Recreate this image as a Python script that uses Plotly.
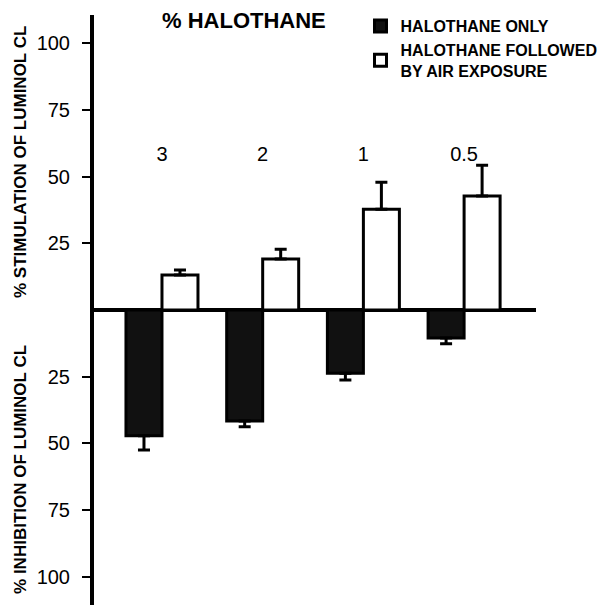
import plotly.graph_objects as go

categories = ["3", "2", "1", "0.5"]
halothane_only = [-47.1, -41.6, -23.7, -10.5]
halothane_only_err = [5.4, 2.2, 2.5, 2.2]
halothane_air = [13.1, 19.1, 37.8, 42.7]
halothane_air_err = [1.9, 3.7, 10.1, 11.6]
ytick_vals = [-100, -75, -50, -25, 25, 50, 75, 100]
ytick_text = [str(abs(v)) for v in ytick_vals]

FONT = "Liberation Sans, Arial, Helvetica, sans-serif"
xpos = list(range(len(categories)))

fig = go.Figure()
fig.add_trace(go.Bar(
    x=xpos, y=halothane_only, name="HALOTHANE ONLY",
    marker=dict(color="#111111", line=dict(color="#000000", width=3)),
    error_y=dict(type="data", symmetric=False, array=[0]*4,
                 arrayminus=halothane_only_err, color="#000000",
                 thickness=3, width=6),
))
fig.add_trace(go.Bar(
    x=xpos, y=halothane_air, name="HALOTHANE FOLLOWED<br>BY AIR EXPOSURE",
    marker=dict(color="#ffffff", line=dict(color="#000000", width=3)),
    error_y=dict(type="data", symmetric=False, array=halothane_air_err,
                 arrayminus=[0]*4, color="#000000", thickness=3, width=6),
))

fig.update_layout(
    width=609, height=605,
    margin=dict(l=86, r=81, t=7, b=8, autoexpand=False),
    paper_bgcolor="white", plot_bgcolor="white",
    barmode="group", bargap=0.285, bargroupgap=0,
    font=dict(family=FONT, color="black"),
    showlegend=True,
    legend=dict(x=0.603, y=1.010, xanchor="left", yanchor="top",
                font=dict(family=FONT, size=16, color="black", weight="bold"),
                bgcolor="rgba(0,0,0,0)", borderwidth=0, tracegroupgap=0),
    xaxis=dict(range=[-0.675, 3.714], tickvals=xpos, ticktext=categories,
               side="top", anchor="free", position=0.745,
               showline=False, ticks="", showgrid=False, zeroline=False,
               tickfont=dict(family=FONT, size=20, color="black")),
    yaxis=dict(range=[-110.6, 110.6], tickvals=ytick_vals, ticktext=ytick_text,
               showline=True, linewidth=4, linecolor="black",
               ticks="outside", ticklen=8, tickwidth=2, tickcolor="black",
               showgrid=False, zeroline=True, zerolinewidth=4,
               zerolinecolor="black", ticklabelstandoff=8,
               tickfont=dict(family=FONT, size=20, color="black")),
    annotations=[
        dict(text="<b>% HALOTHANE</b>", xref="paper", yref="paper",
             x=0.34, y=0.990, xanchor="center", yanchor="middle",
             showarrow=False, font=dict(family=FONT, size=22, color="black")),
        dict(text="<b>% STIMULATION OF LUMINOL CL</b>", xref="paper", yref="paper",
             x=-0.165, y=0.751, xanchor="center", yanchor="middle", textangle=-90,
             showarrow=False, font=dict(family=FONT, size=17, color="black")),
        dict(text="<b>% INHIBITION OF LUMINOL CL</b>", xref="paper", yref="paper",
             x=-0.165, y=0.229, xanchor="center", yanchor="middle", textangle=-90,
             showarrow=False, font=dict(family=FONT, size=17, color="black")),
    ],
)

fig.write_html("out.html")
